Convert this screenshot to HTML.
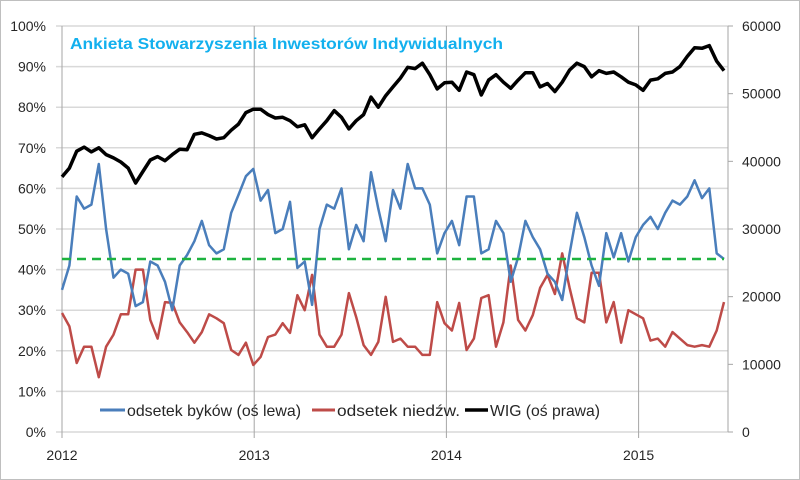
<!DOCTYPE html>
<html><head><meta charset="utf-8"><style>
body{margin:0;background:#fff}
svg{display:block;font-family:"Liberation Sans",sans-serif}
</style></head><body>
<svg id="chart" width="800" height="480">
<rect x="0.5" y="0.5" width="799" height="479" fill="#fff" stroke="#bfbfbf"/>
<g id="grid"></g><g id="axes"></g><g id="series"></g>
<text x="70" y="49" font-size="16" font-weight="bold" fill="#12b0ee" textLength="433" lengthAdjust="spacingAndGlyphs">Ankieta Stowarzyszenia Inwestorów Indywidualnych</text>
<g>
<line x1="100" y1="410" x2="125" y2="410" stroke="#4a7ebb" stroke-width="3"/>
<text x="127" y="416" font-size="16" fill="#262626" textLength="174" lengthAdjust="spacingAndGlyphs">odsetek byków (oś lewa)</text>
<line x1="312" y1="410" x2="335" y2="410" stroke="#be4b48" stroke-width="3"/>
<text x="337" y="416" font-size="16" fill="#262626" textLength="123" lengthAdjust="spacingAndGlyphs">odsetek niedźw.</text>
<line x1="465" y1="410" x2="488" y2="410" stroke="#000" stroke-width="3.5"/>
<text x="490" y="416" font-size="16" fill="#262626" textLength="110" lengthAdjust="spacingAndGlyphs">WIG (oś prawa)</text>
</g>
</svg>
<script>
const weekStep = 2;
const bulls = [35,41,58,55,56,66,50,38,40,39,31,32,42,41,37,30,41,43.6,47,52,46,44,45,54,58.4,63,64.8,57,59.6,49,50,56.7,40.4,42,31.3,50,56,55,60,45,51,47,64,55,47,59.6,55,66,60,60,56,44,49,52,46,58,58,44,45,52,49,37,43,52,48,45,39,37,32.5,44,54,48,41,36,49,43,49,42,48,51,53,50,54,57,56,58,62,57.6,60,44,42.6];
const bears = [29.3,26,17,21,21,13.5,21,24,29,29,40,40,27.6,23,32,31.8,27,24.6,22,24.6,29,28,26.8,20.2,19,22,16.5,18.5,23.4,24,26.8,24.4,33.7,30,38.7,24,21,21,24,34.2,28.3,21.4,19,22.2,33.3,22.2,23,21,21,19,19,32,26.8,25,31.8,20.2,23,33,33.7,21,27,41,27.6,25,28.8,35.5,38.7,34,44,35.5,28,27,39.2,39.2,27,32,22,30,29,28,22.5,23,21,24.6,23,21.4,21,21.4,21,25,32];
const wig = [37700,39000,41500,42100,41400,42000,41000,40500,39900,39000,36800,38500,40200,40700,40100,41000,41800,41700,44000,44200,43800,43300,43500,44600,45500,47200,47700,47700,46900,46400,46500,46000,45100,45400,43500,44800,46000,47500,46500,44800,46000,46900,49500,48000,49700,51000,52300,53900,53700,54500,52800,50700,51600,51700,50500,53200,52800,49800,52000,52800,51700,50800,52000,53100,53100,51000,51500,50300,51700,53500,54500,54000,52500,53400,53000,53200,52500,51700,51300,50500,52000,52200,53000,53200,54000,55500,56800,56700,57100,54800,53400];
const average = 42.6;
const leftTicks = ["0%","10%","20%","30%","40%","50%","60%","70%","80%","90%","100%"];
const rightTicks = ["0","10000","20000","30000","40000","50000","60000"];
const yearLabels = ["2012","2013","2014","2015"];

const X0=62, X1=724, Y0=432, Y1=26, WK=3.678, YR=192.2;
const xW = w => X0 + w*WK;
const xYear = k => X0 + k*YR;
const yL = v => Y0 - (v/100)*(Y0-Y1);
const yR = v => Y0 - (v/60000)*(Y0-Y1);
const NS="http://www.w3.org/2000/svg";
function mk(tag, parent){const e=document.createElementNS(NS,tag);parent.appendChild(e);return e;}
const grid=document.getElementById('grid'), axes=document.getElementById('axes'), ser=document.getElementById('series');

leftTicks.forEach((t,i)=>{
  const y=yL(i*10);
  const l=mk('line',grid);
  l.setAttribute('x1',56);l.setAttribute('x2',728);l.setAttribute('y1',y);l.setAttribute('y2',y);
  l.setAttribute('stroke','#d9d9d9');l.setAttribute('stroke-width','1.5');
  
  
  const tx=mk('text',axes);
  tx.setAttribute('x',46);tx.setAttribute('y',y+5);tx.setAttribute('text-anchor','end');
  tx.setAttribute('font-size','14');tx.setAttribute('fill','#262626');tx.textContent=t;
  
  
});
rightTicks.forEach((t,i)=>{
  const y=yR(+t);
  const tx=mk('text',axes);
  tx.setAttribute('x',742);tx.setAttribute('y',y+5);
  tx.setAttribute('font-size','14');tx.setAttribute('fill','#262626');tx.textContent=t;
  
  
  const tk=mk('line',axes);
  tk.setAttribute('x1',728);tk.setAttribute('x2',733);tk.setAttribute('y1',y);tk.setAttribute('y2',y);tk.setAttribute('stroke','#a6a6a6');
  
  
});
yearLabels.forEach((t,i)=>{
  const x=xYear(i);
  const l=mk('line',grid);
  l.setAttribute('x1',x);l.setAttribute('x2',x);l.setAttribute('y1',Y1);l.setAttribute('y2',Y0+6);
  l.setAttribute('stroke','#a6a6a6');l.setAttribute('stroke-width','1');
  
  
  const tx=mk('text',axes);
  tx.setAttribute('x',x);tx.setAttribute('y',460);tx.setAttribute('text-anchor','middle');
  tx.setAttribute('font-size','14');tx.setAttribute('fill','#262626');tx.textContent=t;
  
  
});
const ra=mk('line',axes);
ra.setAttribute('x1',728);ra.setAttribute('x2',728);ra.setAttribute('y1',Y1);ra.setAttribute('y2',Y0);ra.setAttribute('stroke','#a6a6a6');



function line(vals, yf, color, w, name){
  const p=mk('polyline',ser);
  p.setAttribute('points',vals.map((v,i)=>xW(i*weekStep).toFixed(1)+','+yf(v).toFixed(1)).join(' '));
  p.setAttribute('fill','none');p.setAttribute('stroke',color);p.setAttribute('stroke-width',w);p.setAttribute('stroke-linejoin','round');
  
  
}
line(bears,yL,'#be4b48',2.5,'bears-line');
line(bulls,yL,'#4a7ebb',2.5,'bulls-line');
const av=mk('line',ser);
av.setAttribute('x1',X0);av.setAttribute('x2',X1);av.setAttribute('y1',yL(average));av.setAttribute('y2',yL(average));
av.setAttribute('stroke','#1db33f');av.setAttribute('stroke-width','2.5');av.setAttribute('stroke-dasharray','9,6');


line(wig,yR,'#000',3.5,'wig-line');
</script>
</body></html>
